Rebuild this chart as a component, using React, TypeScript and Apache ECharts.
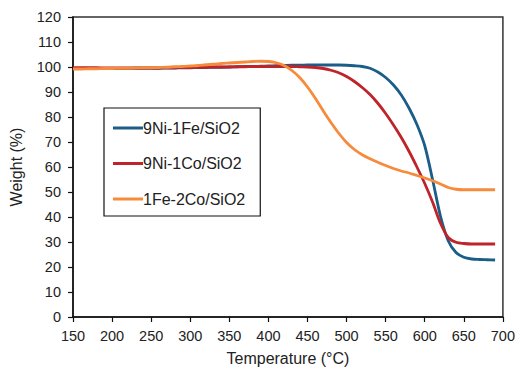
import React, { useEffect, useRef } from "react";
import * as echarts from "echarts";

const temps = [150, 160, 170, 180, 190, 200, 210, 220, 230, 240, 250, 260, 270, 280, 290, 300, 310, 320, 330, 340, 350, 360, 370, 380, 390, 400, 410, 420, 430, 440, 450, 460, 470, 480, 490, 500, 510, 520, 530, 540, 550, 560, 570, 580, 590, 600, 610, 620, 630, 640, 650, 660, 670, 680, 690];
const niFe = [99.4, 99.4, 99.4, 99.4, 99.4, 99.4, 99.4, 99.4, 99.5, 99.5, 99.5, 99.5, 99.6, 99.6, 99.7, 99.7, 99.8, 99.8, 99.9, 99.9, 100.0, 100.1, 100.2, 100.2, 100.3, 100.4, 100.5, 100.6, 100.7, 100.7, 100.8, 100.8, 100.8, 100.8, 100.8, 100.7, 100.5, 100.2, 99.5, 98.0, 95.8, 92.8, 88.8, 83.5, 77.0, 68.5, 55.0, 40.5, 30.5, 25.8, 23.9, 23.2, 23.0, 22.9, 22.8];
const niCo = [99.7, 99.7, 99.7, 99.7, 99.6, 99.6, 99.6, 99.6, 99.6, 99.6, 99.6, 99.6, 99.7, 99.7, 99.8, 99.8, 99.9, 99.9, 100.0, 100.0, 100.0, 100.1, 100.1, 100.2, 100.2, 100.2, 100.2, 100.2, 100.2, 100.1, 100.0, 99.8, 99.4, 98.7, 97.7, 96.2, 94.2, 91.8, 89.0, 85.5, 81.4, 76.8, 71.8, 66.2, 60.0, 53.4, 46.0, 37.6, 31.8, 29.9, 29.4, 29.2, 29.2, 29.2, 29.2];
const feCo = [99.2, 99.2, 99.3, 99.3, 99.4, 99.4, 99.5, 99.5, 99.6, 99.7, 99.7, 99.8, 99.9, 100.1, 100.2, 100.4, 100.6, 100.9, 101.1, 101.4, 101.6, 101.8, 102.0, 102.2, 102.3, 102.2, 101.7, 100.6, 98.6, 95.8, 92.0, 87.5, 82.5, 77.8, 73.5, 69.8, 67.0, 64.9, 63.3, 61.9, 60.6, 59.4, 58.4, 57.6, 56.6, 55.6, 54.5, 53.2, 51.8, 51.1, 50.9, 50.9, 50.9, 50.9, 50.9];
const seriesNames = ["9Ni-1Fe/SiO2", "9Ni-1Co/SiO2", "1Fe-2Co/SiO2"];
const colors = ["#1a5d88", "#be2429", "#f68b3c"];

export default function App() {
  const ref = useRef<HTMLDivElement>(null);
  useEffect(() => {
    document.body.style.margin = "0";
    const chart = echarts.init(ref.current!, undefined, { renderer: "svg" });
    const datasets = [niFe, niCo, feCo];
    const font = "Liberation Sans, Arial, sans-serif";
    chart.setOption({
      animation: false,
      backgroundColor: "#ffffff",
      textStyle: { fontFamily: font },
      grid: {
        left: 71, top: 17, right: 14, bottom: 49,
        show: true, borderColor: "#333", borderWidth: 1.5, backgroundColor: "transparent",
      },
      legend: {
        orient: "vertical",
        left: 104, top: 108,
        padding: [12, 15, 9, 9],
        itemGap: 19.5,
        itemWidth: 30, itemHeight: 3,
        icon: "rect",
        borderColor: "#111", borderWidth: 1.2,
        textStyle: { fontSize: 16, lineHeight: 16, color: "#222", fontFamily: font, padding: [0, 0, 0, -5] },
        data: seriesNames,
      },
      xAxis: {
        type: "value", min: 150, max: 700, interval: 50,
        name: "Temperature (°C)", nameLocation: "middle", nameGap: 33,
        nameTextStyle: { fontSize: 16, color: "#222" },
        axisLine: { show: true, lineStyle: { color: "#111", width: 1.5 } },
        axisTick: { show: true, inside: false, length: 5, lineStyle: { color: "#111", width: 1.2 } },
        axisLabel: { fontSize: 14.5, color: "#222", margin: 11 },
        splitLine: { show: false },
      },
      yAxis: {
        type: "value", min: 0, max: 120, interval: 10,
        name: "Weight (%)", nameLocation: "middle", nameGap: 49,
        nameTextStyle: { fontSize: 16, color: "#222" },
        axisLine: { show: true, lineStyle: { color: "#111", width: 1.5 } },
        axisTick: { show: true, inside: false, length: 5, lineStyle: { color: "#111", width: 1.2 } },
        axisLabel: { fontSize: 14.5, color: "#222", margin: 12 },
        splitLine: { show: false },
      },
      series: datasets.map((d, i) => ({
        name: seriesNames[i],
        type: "line",
        data: temps.map((t, j) => [t, d[j]]),
        smooth: 0.3,
        showSymbol: false,
        symbol: "none",
        lineStyle: { color: colors[i], width: 2.8 },
        itemStyle: { color: colors[i] },
      })),
    });
    return () => chart.dispose();
  }, []);
  return <div ref={ref} style={{ width: 518, height: 371 }} />;
}
